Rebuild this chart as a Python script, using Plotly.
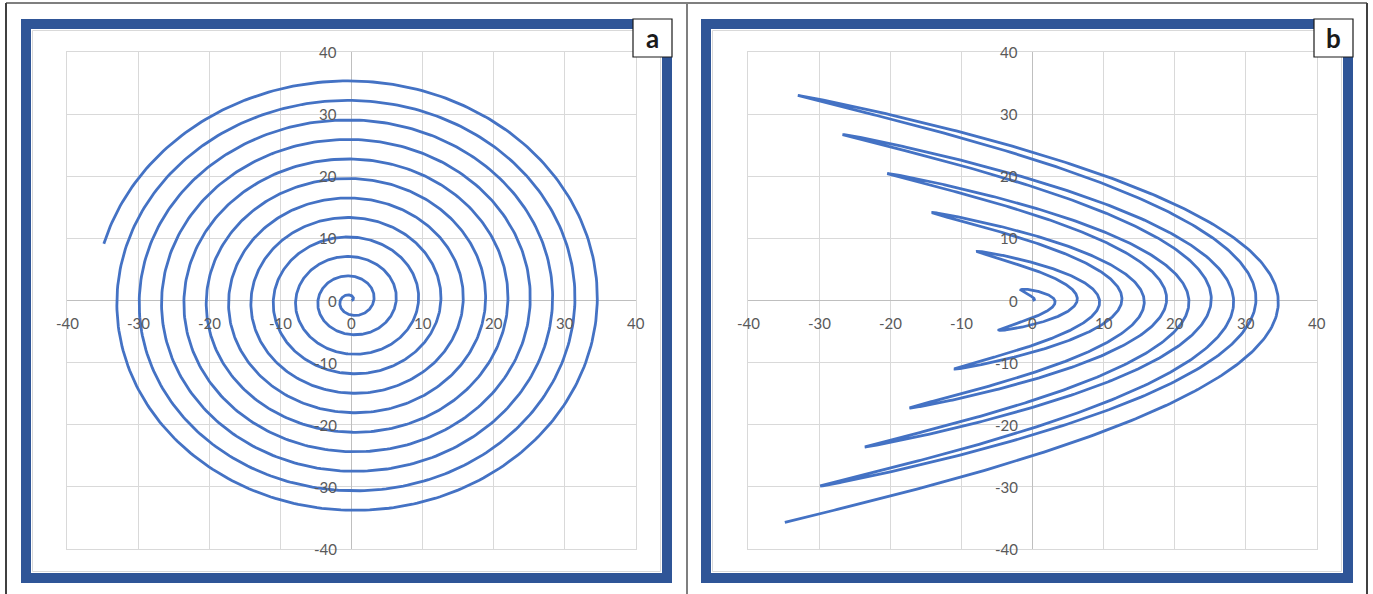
import numpy as np
import plotly.graph_objects as go

# Canvas size in pixels
W, H = 1373, 594

# Spiral parameters: radius grows 0.5 unit per radian, curve traced up to angle 72 rad
SPIRAL_GROWTH = 0.5
THETA_END = 72.0
THETA_STEP = 0.02

# Axis ticks shown next to the zero lines
TICK_VALUES = [-40, -30, -20, -10, 0, 10, 20, 30, 40]
TICK_LABELS = ["-40", "-30", "-20", "-10", "0", "10", "20", "30", "40"]

PANEL_LETTERS = ["a", "b"]

theta = np.arange(0.0, THETA_END + THETA_STEP / 2, THETA_STEP)
radius = SPIRAL_GROWTH * theta

# (a) Archimedean spiral in Cartesian form
spiral_x = radius * np.cos(theta)
spiral_y = radius * np.sin(theta)

# (b) same radius, with the vertical component using half the angle
folded_x = radius * np.cos(theta)
folded_y = radius * np.sin(theta / 2)

LINE_COLOR = "#4472C4"
BLUE = "#2F5597"
GRID = "#D9D9D9"
TEXT = "#595959"


def px(x):
    return x / W


def py(y):
    return 1 - y / H


fig = go.Figure()
fig.add_trace(go.Scatter(x=spiral_x, y=spiral_y, mode="lines",
                         line=dict(color=LINE_COLOR, width=2.8),
                         xaxis="x", yaxis="y", hoverinfo="skip"))
fig.add_trace(go.Scatter(x=folded_x, y=folded_y, mode="lines",
                         line=dict(color=LINE_COLOR, width=2.8),
                         xaxis="x2", yaxis="y2", hoverinfo="skip"))

axis_common = dict(range=[-40, 40], tickvals=TICK_VALUES, showticklabels=False,
                   showgrid=True, gridcolor=GRID, gridwidth=1,
                   zeroline=True, zerolinecolor="#BFBFBF", zerolinewidth=1,
                   showline=True, linecolor=GRID, linewidth=1, mirror=True,
                   ticks="", fixedrange=True)

ydom = [py(549), py(52)]
fig.update_layout(
    width=W, height=H,
    margin=dict(l=0, r=0, t=0, b=0),
    paper_bgcolor="white", plot_bgcolor="white",
    showlegend=False,
    xaxis=dict(domain=[px(67), px(636)], anchor="y", **axis_common),
    yaxis=dict(domain=ydom, anchor="x", **axis_common),
    xaxis2=dict(domain=[px(748), px(1317)], anchor="y2", **axis_common),
    yaxis2=dict(domain=ydom, anchor="x2", **axis_common),
)

# Tick labels placed next to the zero lines
annotations = []
tick_font = dict(family="Lato, Open Sans, sans-serif", size=15, color=TEXT)
for xr, yr in (("x", "y"), ("x2", "y2")):
    for v, lab in zip(TICK_VALUES, TICK_LABELS):
        annotations.append(dict(x=v, y=0, xref=xr, yref=yr, text=lab, showarrow=False,
                                xanchor="center", yanchor="middle", yshift=-22,
                                font=tick_font))
        annotations.append(dict(x=0, y=v, xref=xr, yref=yr, text=lab, showarrow=False,
                                xanchor="right", yanchor="middle", xshift=-13,
                                font=tick_font))

shapes = []
# Outer page frame lines
shapes.append(dict(type="line", xref="paper", yref="paper", x0=px(6), x1=px(1367),
                   y0=py(3), y1=py(3), line=dict(color="#7F7F7F", width=2)))
shapes.append(dict(type="line", xref="paper", yref="paper", x0=px(6), x1=px(6),
                   y0=py(3), y1=py(594), line=dict(color="#404040", width=2)))
shapes.append(dict(type="line", xref="paper", yref="paper", x0=px(687), x1=px(687),
                   y0=py(3), y1=py(594), line=dict(color="#7F7F7F", width=2)))
shapes.append(dict(type="line", xref="paper", yref="paper", x0=px(1367), x1=px(1367),
                   y0=py(3), y1=py(594), line=dict(color="#404040", width=2)))

# Panel frames: thick blue border, light inner chart-area outline, letter box
panels = [(21, 672), (701, 1353)]
for (left, right), letter in zip(panels, PANEL_LETTERS):
    top, bottom = 19, 583
    shapes.append(dict(type="rect", xref="paper", yref="paper",
                       x0=px(left + 5), x1=px(right - 5), y0=py(top + 5), y1=py(bottom - 5),
                       line=dict(color=BLUE, width=10), fillcolor="rgba(0,0,0,0)"))
    shapes.append(dict(type="rect", xref="paper", yref="paper",
                       x0=px(left + 11.5), x1=px(right - 11.5), y0=py(top + 11.5), y1=py(bottom - 11.5),
                       line=dict(color=GRID, width=1), fillcolor="rgba(0,0,0,0)"))
    shapes.append(dict(type="rect", xref="paper", yref="paper",
                       x0=px(right - 39), x1=px(right), y0=py(top), y1=py(top + 38),
                       line=dict(color="#1A1A1A", width=1.2), fillcolor="white"))
    annotations.append(dict(x=px(right - 19.5), y=py(top + 19), xref="paper", yref="paper",
                            text="<b>%s</b>" % letter, showarrow=False,
                            xanchor="center", yanchor="middle",
                            font=dict(family="Lato, Open Sans, sans-serif", size=26,
                                      color="#1A1A1A")))

fig.update_layout(shapes=shapes, annotations=annotations)
fig.write_html("out.html")
